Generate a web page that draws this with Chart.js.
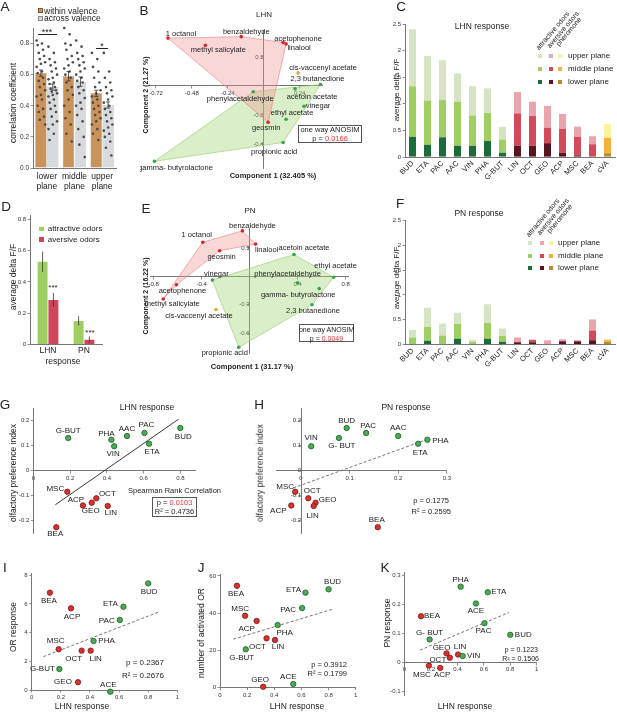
<!DOCTYPE html>
<html>
<head>
<meta charset="utf-8">
<title>LHN and PN odor responses</title>
<script src="https://cdn.jsdelivr.net/npm/chart.js@4.4.1/dist/chart.umd.min.js"></script>
<style>
  html, body { margin: 0; padding: 0; background: #fff; }
  #page { position: relative; width: 617px; height: 712px; overflow: hidden;
          font-family: "Liberation Sans", Arial, sans-serif; color: #222; }
  #page canvas { position: absolute; }
  .tx { position: absolute; white-space: nowrap; line-height: 1; z-index: 2; }
  .sq { position: absolute; z-index: 2; box-sizing: border-box; }
  .box { position: absolute; border: 1px solid #555; z-index: 2; box-sizing: border-box; }
  .hl { position: absolute; border-top: 1px solid #222; z-index: 2; }
  .red { color: #e8383d; }
</style>
</head>
<body>
<div id="page"></div>
<script>
// --- A: correlation coefficient per imaging plane ---
const planeLabels = [['lower', 'plane'], ['middle', 'plane'], ['upper', 'plane']];
const withinMean = [0.61, 0.59, 0.48];
const acrossMean = [0.52, 0.555, 0.405];
const withinSem = [0.02, 0.03, 0.02];
const acrossSem = [0.02, 0.03, 0.02];
const withinLower = [0.82, 0.80, 0.79, 0.76, 0.74, 0.72, 0.70, 0.68, 0.67, 0.65, 0.62, 0.61, 0.58, 0.56, 0.54, 0.52, 0.50, 0.47, 0.46, 0.44, 0.40, 0.38, 0.36, 0.33, 0.31, 0.28];
const acrossLower = [0.78, 0.74, 0.70, 0.68, 0.66, 0.64, 0.62, 0.60, 0.58, 0.57, 0.55, 0.54, 0.52, 0.51, 0.50, 0.49, 0.48, 0.47, 0.46, 0.44, 0.42, 0.40, 0.38, 0.36, 0.33, 0.30, 0.28, 0.25, 0.22, 0.18];
const withinMiddle = [0.90, 0.86, 0.80, 0.79, 0.76, 0.72, 0.70, 0.68, 0.66, 0.64, 0.62, 0.60, 0.58, 0.55, 0.52, 0.50, 0.47, 0.44, 0.40, 0.36, 0.32, 0.28, 0.22, 0.17];
const acrossMiddle = [0.82, 0.78, 0.74, 0.72, 0.70, 0.68, 0.66, 0.64, 0.62, 0.60, 0.58, 0.56, 0.55, 0.52, 0.50, 0.48, 0.45, 0.42, 0.40, 0.38, 0.34, 0.30, 0.25, 0.20, 0.15, 0.07];
const withinUpper = [0.74, 0.70, 0.65, 0.62, 0.58, 0.55, 0.52, 0.50, 0.48, 0.46, 0.44, 0.42, 0.40, 0.38, 0.36, 0.34, 0.32, 0.30, 0.28, 0.25, 0.22, 0.18];
const acrossUpper = [0.74, 0.62, 0.58, 0.55, 0.52, 0.50, 0.48, 0.46, 0.44, 0.42, 0.40, 0.38, 0.36, 0.34, 0.32, 0.30, 0.28, 0.26, 0.24, 0.22, 0.20, 0.17, 0.13, 0.08];

// --- B / E: PCA scores ---
const pcaOdors = ['1 octanol', 'benzaldehyde', 'methyl salicylate', 'acetophenone', 'linalool', 'geosmin',
  'cis-vaccenyl acetate', '2,3 butanedione', 'acetoin acetate', 'phenylacetaldehyde', 'vinegar',
  'ethyl acetate', 'propionic acid', 'gamma- butyrolactone'];
const pcaGroup = ['av', 'av', 'av', 'av', 'av', 'av', 'ph', 'at', 'at', 'at', 'at', 'at', 'at', 'at'];
const lhnPc1 = [-0.64, -0.15, -0.39, 0.13, 0.15, 0.03, 0.23, 0.38, 0.21, -0.07, 0.27, 0.15, 0.13, -0.73];
const lhnPc2 = [0.33, 0.34, 0.28, 0.30, 0.29, -0.25, 0.09, 0.01, -0.02, -0.04, -0.14, -0.23, -0.39, -0.52];
const lhnHullAv = [0, 1, 3, 4, 5];
const lhnHullAt = [13, 9, 7, 12];
const pnPc1 = [-0.39, -0.06, -0.72, -0.61, 0.05, -0.25, -0.28, 0.52, 0.37, 0.40, -0.31, 0.70, -0.09, 0.58];
const pnPc2 = [0.36, 0.48, -0.24, -0.09, 0.34, 0.27, -0.35, -0.30, 0.23, -0.07, -0.04, -0.01, -0.75, -0.13];
const pnHullAv = [2, 0, 1, 4, 5, 3];
const pnHullAt = [10, 8, 11, 7, 12];

// --- C / F: average delta F/F per plane ---
const barOdors = ['BUD', 'ETA', 'PAC', 'AAC', 'VIN', 'PHA', 'G-BUT', 'LIN', 'OCT', 'GEO', 'ACP', 'MSC', 'BEA', 'cVA'];
const barGroup = ['at', 'at', 'at', 'at', 'at', 'at', 'at', 'av', 'av', 'av', 'av', 'av', 'av', 'ph'];
const lhnLower = [0.38, 0.23, 0.37, 0.21, 0.21, 0.30, 0.08, 0.21, 0.21, 0.26, 0.08, 0.03, 0, 0.07];
const lhnMiddle = [0.95, 0.83, 0.70, 0.83, 0.57, 0.53, 0.25, 0.61, 0.56, 0.29, 0.45, 0.35, 0.24, 0.29];
const lhnUpper = [1.07, 0.84, 0.75, 0.53, 0.55, 0.46, 0.24, 0.40, 0.27, 0.41, 0.28, 0.19, 0.15, 0.26];
const pnLower = [0, 0.07, 0, 0.11, 0, 0.11, 0.05, 0.04, 0.04, 0, 0.06, 0.06, 0.08, 0.05];
const pnMiddle = [0.14, 0.28, 0.18, 0.30, 0.05, 0.32, 0.12, 0, 0.05, 0.01, 0, 0, 0.20, 0.04];
const pnUpper = [0.15, 0.39, 0.24, 0.23, 0.04, 0.38, 0.15, 0.10, 0, 0.07, 0.04, 0.02, 0.22, 0];

// --- D: mean response by valence ---
const dCats = ['LHN', 'PN'];
const attrMean = [0.53, 0.15];
const aversMean = [0.285, 0.03];
const attrErr = [0.065, 0.03];
const aversErr = [0.045, 0.02];

// --- G-K: per-odor values ---
const odorCodes = ['BUD', 'ETA', 'PAC', 'AAC', 'VIN', 'PHA', 'G-BUT', 'ACE', 'MSC', 'ACP', 'GEO', 'OCT', 'LIN', 'BEA'];
const odorValence = ['at', 'at', 'at', 'at', 'at', 'at', 'at', 'at', 'av', 'av', 'av', 'av', 'av', 'av'];
const lhnResponse = [0.80, 0.63, 0.605, 0.51, 0.44, 0.425, 0.19, 0.54, 0.185, 0.27, 0.318, 0.343, 0.405, 0.125];
const prefIndex = [0.17, 0.107, 0.15, 0.138, 0.097, 0.123, 0.13, null, -0.085, -0.14, -0.129, -0.111, -0.142, -0.227];
const pnResponse = [0.094, 0.241, 0.134, 0.20, 0.021, 0.26, 0.078, 0.202, -0.012, -0.02, 0.03, 0.015, 0.026, 0.158];
const orResponse = [7.43, 5.80, 4.88, null, null, 3.41, 1.46, -0.12, 2.84, 5.69, 0.54, 2.74, 2.74, 6.78];
const activatedOr = [52.8, 51, 42.7, null, null, 33.6, 20.6, 2.0, 38.6, 35.8, 0.5, 26.5, 25.6, 54.7];
const gOdors = ['BUD', 'ETA', 'PAC', 'AAC', 'VIN', 'PHA', 'G-BUT', 'MSC', 'ACP', 'GEO', 'OCT', 'LIN', 'BEA'];
const iOdors = ['BUD', 'ETA', 'PAC', 'PHA', 'G-BUT', 'ACE', 'MSC', 'ACP', 'GEO', 'OCT', 'LIN', 'BEA'];
const kOdors = ['BUD', 'ETA', 'PAC', 'VIN', 'PHA', 'G-BUT', 'ACE', 'MSC', 'ACP', 'GEO', 'OCT', 'LIN', 'BEA'];
// fitted lines
const gFit = [[0.12, -0.137], [0.79, 0.205]];
const hFit = [[-0.016, -0.07], [0.259, 0.124]];
const iFit = [[0.08, 2.32], [0.88, 5.46]];
const jFit = [[0.098, 26], [0.833, 42.2]];
const kFit = [[0.117, 0.041], [0.79, 0.171]];

// --- label placement (pixels from the point) ---
const bLabelPos = [[13, -4], [5, -5], [13, 5], [15, -4], [13, 4], [-2, 6], [25, -5], [-3, -6], [17, 8], [-13, 7], [14, 0], [6, -6], [-9, 9], [21, 7]];
const eLabelPos = [[-6, -7], [10, -5], [9, 5], [6, 6], [11, 6], [2, 6], [-17, 6], [1, 6], [10, -7], [-10, -9], [4, -6], [2, -11], [-14, 6], [-21, 6]];
const gLabelPos = {BUD: [3, 9], ETA: [3, 8], PAC: [2, -8], AAC: [0, -7], VIN: [-1, 8], PHA: [-5, -6], 'G-BUT': [0, -7], MSC: [-12, -3], ACP: [-7, -6], GEO: [-1, 8], OCT: [11, -4], LIN: [3, 7], BEA: [-1, 7]};
const hLabelPos = {VIN: [0, -8], 'G-BUT': [3, 8], BUD: [0, -7], PAC: [2, -7], AAC: [0, -8], ETA: [2, 9], PHA: [13, 1], OCT: [4, -7], GEO: [12, -3], LIN: [-1, 10], BEA: [-1, -7], MSC: [-10, -5], ACP: [-13, 5]};
const iLabelPos = {BUD: [1, 8], BEA: [-1, 8], ETA: [-13, -3], ACP: [1, 8], PAC: [-13, 1], PHA: [13, 0], MSC: [-3, -8], OCT: [-8, 8], LIN: [5, 8], 'G-BUT': [-17, 0], GEO: [-15, 0], ACE: [-2, -7]};
const jLabelPos = {BEA: [-1, 8], BUD: [4, -7], ETA: [-12, -3], PAC: [-14, 2], MSC: [-5, -7], ACP: [-10, 8], PHA: [7, 8], OCT: [-9, 8], LIN: [3, 7], 'G-BUT': [-4, 8], ACE: [-5, -7], GEO: [-3, -7]};
const kLabelPos = {PHA: [0, -7], ETA: [11, 0], ACE: [0, 7], BEA: [11, 0], PAC: [-1, 8], BUD: [13, 0], 'G-BUT': [0, -7], GEO: [-5, -6], LIN: [2, -8], OCT: [-12, 2], VIN: [11, 0], MSC: [-7, 9], ACP: [2, 7]};

const FONT = '"Liberation Sans", Arial, sans-serif';
const planeColors = {
    at: ['#1e6b3a', '#9fcf63', '#d5e4c3'],
    av: ['#5a1420', '#d34b5b', '#eaa4ad'],
    ph: ['#b98a2d', '#f5b03e', '#fbf39c']
};

Chart.defaults.font.family = FONT;
Chart.defaults.color = '#333';
Chart.defaults.animation = false;
Chart.defaults.responsive = false;
Chart.defaults.events = [];
Chart.defaults.plugins.legend.display = false;
Chart.defaults.plugins.tooltip.enabled = false;

// --- Plugins ---
const pointLabels = {
    id: 'pointLabels',
    afterDatasetsDraw(chart) {
        const ctx = chart.ctx;
        chart.data.datasets.forEach((ds, i) => {
            if (!ds.names) return;
            const meta = chart.getDatasetMeta(i);
            ctx.save();
            ctx.font = (ds.labelSize || 8) + 'px ' + FONT;
            ctx.fillStyle = '#222';
            ctx.textAlign = 'center';
            ctx.textBaseline = 'middle';
            meta.data.forEach((pt, j) => {
                const off = (ds.offsets && ds.offsets[j]) || [0, -7];
                ctx.fillText(ds.names[j], pt.x + off[0], pt.y + off[1]);
            });
            ctx.restore();
        });
    }
};

const barExtras = {
    id: 'barExtras',
    afterDatasetsDraw(chart) {
        const ctx = chart.ctx;
        const y = chart.scales.y;
        chart.data.datasets.forEach((ds, i) => {
            if (!ds.dots && !ds.errors) return;
            const meta = chart.getDatasetMeta(i);
            ctx.save();
            meta.data.forEach((bar, j) => {
                if (ds.dots) {
                    ctx.fillStyle = '#4a4a4a';
                    ds.dots[j].forEach((v, k) => {
                        const dx = (((k * 5) % 9) - 4) / 4 * bar.width * 0.38;
                        ctx.beginPath();
                        ctx.arc(bar.x + dx, y.getPixelForValue(v), 1.3, 0, Math.PI * 2);
                        ctx.fill();
                    });
                }
                if (ds.errors) {
                    const v = ds.data[j], e = ds.errors[j], cap = ds.cap || 0;
                    const t = y.getPixelForValue(v + e), b = y.getPixelForValue(v - e);
                    ctx.strokeStyle = '#333';
                    ctx.lineWidth = 0.8;
                    ctx.beginPath();
                    ctx.moveTo(bar.x, t); ctx.lineTo(bar.x, b);
                    if (cap) {
                        ctx.moveTo(bar.x - cap, t); ctx.lineTo(bar.x + cap, t);
                        ctx.moveTo(bar.x - cap, b); ctx.lineTo(bar.x + cap, b);
                    }
                    ctx.stroke();
                }
            });
            ctx.restore();
        });
    }
};
Chart.register(pointLabels, barExtras);

// --- Helpers ---
const page = document.getElementById('page');

function makeChart(box, area, cfg, leftW, bottomH) {
    leftW = leftW || 0;
    bottomH = bottomH || 0;
    const c = document.createElement('canvas');
    c.width = box[2];
    c.height = box[3];
    Object.assign(c.style, {left: box[0] + 'px', top: box[1] + 'px', width: box[2] + 'px', height: box[3] + 'px'});
    page.appendChild(c);
    cfg.options.layout = {padding: {
        left: area[0] - box[0] - leftW,
        top: area[1] - box[1],
        right: box[0] + box[2] - area[2],
        bottom: box[1] + box[3] - area[3] - bottomH
    }};
    return new Chart(c, cfg);
}

function valueAxis(min, max, ticks, opts) {
    opts = opts || {};
    const ax = {
        type: 'linear', min: min, max: max,
        position: opts.position || 'left',
        afterBuildTicks: s => { s.ticks = ticks.map(v => ({value: v})); },
        ticks: {autoSkip: false, font: {size: opts.tickSize || 6}, color: '#333', padding: 1.5,
                callback: opts.fmt || (v => String(v))},
        grid: {drawOnChartArea: false, drawTicks: true, tickLength: 2.5, color: '#777', lineWidth: 0.8},
        border: {color: '#777', width: 1}
    };
    if (opts.fit !== undefined) {
        ax.afterFit = s => { if (s.isHorizontal()) s.height = opts.fit; else s.width = opts.fit; };
    }
    return ax;
}

function categoryAxis(size, rotation, pad, fit, stacked) {
    return {
        stacked: !!stacked,
        grid: {display: false, drawTicks: false, tickLength: 0},
        border: {color: '#777'},
        ticks: {autoSkip: false, minRotation: rotation, maxRotation: rotation,
                font: {size: size, lineHeight: 1.25}, color: '#222', padding: pad},
        afterFit: s => { s.height = fit; }
    };
}

function addText(html, x, y, o) {
    o = o || {};
    const d = document.createElement('div');
    d.className = 'tx';
    d.innerHTML = html;
    d.style.left = x + 'px';
    d.style.top = y + 'px';
    d.style.fontSize = (o.size || 8) + 'px';
    if (o.bold) d.style.fontWeight = 'bold';
    if (o.origin === 'left') {
        d.style.transformOrigin = '0 50%';
        d.style.transform = 'translate(0,-50%) rotate(' + o.rot + 'deg)';
    } else {
        const ax = o.align === 'left' ? '0' : o.align === 'right' ? '-100%' : '-50%';
        d.style.transform = 'translate(' + ax + ',-50%)' + (o.rot ? ' rotate(' + o.rot + 'deg)' : '');
    }
    page.appendChild(d);
}

function addSquare(x, y, s, color, border) {
    const d = document.createElement('div');
    d.className = 'sq';
    Object.assign(d.style, {left: x + 'px', top: y + 'px', width: s + 'px', height: s + 'px', background: color});
    if (border) d.style.border = '0.5px solid ' + border;
    page.appendChild(d);
}

function addBox(x, y, w, h) {
    const d = document.createElement('div');
    d.className = 'box';
    Object.assign(d.style, {left: x + 'px', top: y + 'px', width: w + 'px', height: h + 'px'});
    page.appendChild(d);
}

function addLine(x1, x2, y) {
    const d = document.createElement('div');
    d.className = 'hl';
    Object.assign(d.style, {left: x1 + 'px', top: y + 'px', width: (x2 - x1) + 'px'});
    page.appendChild(d);
}

// --- A ---
makeChart([0, 0, 150, 204], [33, 28, 116, 168], {
    type: 'bar',
    data: {
        labels: planeLabels,
        datasets: [
            {data: withinMean, errors: withinSem, cap: 2, dots: [withinLower, withinMiddle, withinUpper],
             backgroundColor: '#c9935b', borderColor: '#9a7040', borderWidth: 0.5,
             categoryPercentage: 0.86, barPercentage: 0.95},
            {data: acrossMean, errors: acrossSem, cap: 2, dots: [acrossLower, acrossMiddle, acrossUpper],
             backgroundColor: '#d8dbde', borderColor: '#a0a4a8', borderWidth: 0.5,
             categoryPercentage: 0.86, barPercentage: 0.95}
        ]
    },
    options: {
        scales: {
            x: categoryAxis(8.5, 0, 3, 26),
            y: valueAxis(0, 0.9, [0, 0.2, 0.4, 0.6, 0.8], {fmt: v => v.toFixed(1), fit: 33, tickSize: 6.5})
        }
    }
}, 33, 26);

// --- B, E ---
function pcaChart(box, area, pc1, pc2, hullAv, hullAt, labelPos, xr, yr) {
    const pointSet = (group, color) => {
        const idx = pcaOdors.map((n, i) => i).filter(i => pcaGroup[i] === group);
        return {
            data: idx.map(i => ({x: pc1[i], y: pc2[i]})),
            names: idx.map(i => pcaOdors[i]),
            offsets: idx.map(i => labelPos[i]),
            labelSize: 7.5,
            backgroundColor: color, borderWidth: 0, pointRadius: 1.8, clip: false
        };
    };
    const hullSet = (idx, fillColor, lineColor) => ({
        data: idx.concat(idx[0]).map(i => ({x: pc1[i], y: pc2[i]})),
        showLine: true, fill: 'shape', backgroundColor: fillColor, borderColor: lineColor,
        borderWidth: 0.7, pointRadius: 0, order: 5
    });
    return makeChart(box, area, {
        type: 'scatter',
        data: {datasets: [
            pointSet('av', '#d8232a'),
            pointSet('at', '#3aa34a'),
            pointSet('ph', '#f0a22e'),
            hullSet(hullAv, 'rgba(240,140,140,0.35)', 'rgba(232,130,130,0.9)'),
            hullSet(hullAt, 'rgba(160,212,120,0.4)', 'rgba(150,205,110,0.9)')
        ]},
        options: {
            scales: {
                x: valueAxis(xr[0], xr[1], xr[2], {position: {y: 0}}),
                y: valueAxis(yr[0], yr[1], yr[2], {position: {x: 0}})
            }
        }
    });
}

pcaChart([140, 0, 262, 200], [150, 30, 322, 168], lhnPc1, lhnPc2, lhnHullAv, lhnHullAt, bLabelPos,
    [-0.76, 0.39, [-0.72, -0.48, -0.24, 0.24]], [-0.566, 0.386, [-0.4, -0.2, 0.2]]);
pcaChart([140, 205, 262, 170], [150, 228, 348, 353], pnPc1, pnPc2, pnHullAv, pnHullAt, eLabelPos,
    [-0.83, 0.82, [-0.8, -0.4, 0.4, 0.8]], [-0.81, 0.51, [-0.6, -0.3, 0.3]]);

// --- C, F ---
function stackedBars(box, area, lower, middle, upper) {
    const sets = [lower, middle, upper].map((vals, p) => ({
        data: vals,
        backgroundColor: barGroup.map(g => planeColors[g][p]),
        borderWidth: 0, categoryPercentage: 1, barPercentage: 0.47
    }));
    return makeChart(box, area, {
        type: 'bar',
        data: {labels: barOdors, datasets: sets},
        options: {
            scales: {
                x: categoryAxis(7.5, 45, 2, 25, true),
                y: Object.assign(valueAxis(0, 2.5, [0, 0.5, 1, 1.5, 2, 2.5], {fit: 17}), {stacked: true})
            }
        }
    }, 17, 25);
}
stackedBars([388, 0, 229, 200], [405, 24, 615, 157], lhnLower, lhnMiddle, lhnUpper);
stackedBars([388, 205, 229, 170], [405, 220.7, 615, 344.3], pnLower, pnMiddle, pnUpper);

// --- D ---
makeChart([0, 205, 150, 170], [30, 215, 102, 344.3], {
    type: 'bar',
    data: {
        labels: dCats,
        datasets: [
            {data: attrMean, errors: attrErr, backgroundColor: '#9fcf63', borderWidth: 0,
             categoryPercentage: 0.6, barPercentage: 0.92},
            {data: aversMean, errors: aversErr, backgroundColor: '#d0455a', borderWidth: 0,
             categoryPercentage: 0.6, barPercentage: 0.92}
        ]
    },
    options: {
        scales: {
            x: categoryAxis(8.5, 0, 1, 12),
            y: valueAxis(0, 0.83, [0, 0.2, 0.4, 0.6, 0.8], {fit: 30})
        }
    }
}, 30, 12);

// --- G-K ---
function scatterChart(box, area, odors, xs, ys, fit, dashed, labelPos, scales, leftW, bottomH, rename) {
    const sets = ['at', 'av'].map(v => {
        const idx = odors.map(c => odorCodes.indexOf(c)).filter(i => odorValence[i] === v);
        return {
            data: idx.map(i => ({x: xs[i], y: ys[i]})),
            names: idx.map(i => (rename && rename[odorCodes[i]]) || odorCodes[i]),
            offsets: idx.map(i => labelPos[odorCodes[i]]),
            labelSize: 8,
            backgroundColor: v === 'at' ? '#4aab55' : '#d93030',
            borderColor: v === 'at' ? '#1f5d29' : '#7c1515',
            borderWidth: 0.8, pointRadius: 2.7, clip: false
        };
    });
    sets.push({
        data: fit.map(p => ({x: p[0], y: p[1]})), showLine: true,
        borderColor: dashed ? '#666' : '#222', borderWidth: 0.9, borderDash: dashed ? [3, 2] : [],
        pointRadius: 0, order: 5
    });
    return makeChart(box, area, {type: 'scatter', data: {datasets: sets}, options: {scales: scales}}, leftW, bottomH);
}

const spaced = {'G-BUT': 'G- BUT'};
const prefTicks = [-0.2, -0.1, 0, 0.1, 0.2];

scatterChart([0, 395, 255, 150], [33.3, 408, 195, 533], gOdors, lhnResponse, prefIndex, gFit, false, gLabelPos, {
    x: valueAxis(0, 0.88, [0, 0.2, 0.4, 0.6, 0.8], {position: {y: 0}}),
    y: valueAxis(-0.25, 0.25, prefTicks, {fit: 33.3})
}, 33.3, 0);

scatterChart([255, 395, 200, 150], [276.7, 408, 446.8, 533], gOdors, pnResponse, prefIndex, hFit, true, hLabelPos, {
    x: valueAxis(-0.05, 0.3, [0, 0.1, 0.2, 0.3], {position: {y: 0}}),
    y: valueAxis(-0.25, 0.25, prefTicks, {position: {x: 0}})
}, 0, 0, spaced);

const lhnTicks = [0, 0.2, 0.4, 0.6, 0.8, 1];
scatterChart([0, 555, 205, 157], [31.7, 573, 177.3, 690], iOdors, lhnResponse, orResponse, iFit, true, iLabelPos, {
    x: valueAxis(0, 1, lhnTicks, {position: 'bottom', fit: 10}),
    y: valueAxis(0, 8.15, [0, 2, 4, 6, 8], {fit: 31.7})
}, 31.7, 10);

scatterChart([200, 555, 190, 157], [220, 574, 355.7, 687.7], iOdors, lhnResponse, activatedOr, jFit, true, jLabelPos, {
    x: valueAxis(0, 1, lhnTicks, {position: 'bottom', fit: 10}),
    y: valueAxis(0, 61, [0, 20, 40, 60], {fit: 20})
}, 20, 10);

scatterChart([380, 555, 237, 157], [404.5, 572.2, 536.7, 695.4], kOdors, lhnResponse, pnResponse, kFit, true, kLabelPos, {
    x: valueAxis(0, 1, lhnTicks, {position: {y: 0}}),
    y: valueAxis(-0.115, 0.31, [-0.1, 0, 0.1, 0.2, 0.3], {fit: 24.5})
}, 24.5, 0, spaced);

// --- Text, legends, annotations ---
[['A', 5, 7], ['B', 144, 11], ['C', 401, 7], ['D', 6, 207], ['E', 146, 209], ['F', 400, 204],
 ['G', 5, 405], ['H', 259, 405], ['I', 5, 568], ['J', 201, 568], ['K', 385, 568]]
    .forEach(([t, x, y]) => addText(t, x, y, {size: 13.5}));

addText('LHN', 264, 15, {size: 8});
addText('LHN response', 482, 26, {size: 8.5});
addText('PN', 250, 211, {size: 8});
addText('PN response', 479, 213, {size: 8.5});
addText('LHN response', 147, 407, {size: 8.5});
addText('PN response', 406, 407, {size: 8.5});

addText('correlation coefficient', 13, 103, {size: 8.5, rot: -90});
addText('Component 2 (21.27 %)', 145, 95, {size: 7, bold: true, rot: -90});
addText('Component 1 (32.405 %)', 273, 176, {size: 7.5, bold: true});
addText('average delta F/F', 397, 90, {size: 8, rot: -90});
addText('average delta F/F', 13, 277, {size: 8.5, rot: -90});
addText('response', 63, 361, {size: 8.5});
addText('Component 2 (16.22 %)', 145, 296, {size: 7, bold: true, rot: -90});
addText('Component 1 (31.17 %)', 252, 367, {size: 7.5, bold: true});
addText('average delta F/F', 397, 278, {size: 8, rot: -90});
addText('olfactory preference index', 13, 473, {size: 8.5, rot: -90});
addText('olfactory preference index', 260, 473, {size: 8.5, rot: -90});
addText('OR response', 13, 627, {size: 8.5, rot: -90});
addText('LHN response', 82, 706, {size: 8.5});
addText('number of activated OR', 201, 633, {size: 8.5, rot: -90});
addText('LHN response', 297, 706, {size: 8.5});
addText('PN response', 387, 623, {size: 8.5, rot: -90});
addText('LHN response', 465, 706, {size: 8.5});

// A legend and significance
addSquare(38, 8, 5, '#c9935b', '#7a5a35');
addText('within valence', 44, 10.5, {size: 8.5, align: 'left'});
addSquare(38, 15.5, 5, '#d8dbde', '#888');
addText('across valence', 44, 18, {size: 8.5, align: 'left'});
addText('***', 47, 32, {size: 9});
addLine(38, 57, 33.5);
addText('*', 102, 45.5, {size: 9});
addLine(96, 108, 47.5);

// B / E stats
addBox(298, 125, 64, 18);
addText('one way ANOSIM', 330, 130, {size: 7.5});
addText('p = <span class="red">0.0166</span>', 330, 138.5, {size: 7.5});
addBox(299, 324, 55, 18);
addText('one way ANOSIM', 326.5, 329, {size: 7});
addText('p = <span class="red">0.0049</span>', 326.5, 337.5, {size: 7});

// C / F legends
function planeLegend(cols, rows, textX, heads) {
    const planes = ['upper plane', 'middle plane', 'lower plane'];
    const groups = ['at', 'av', 'ph'];
    planes.forEach((p, r) => {
        groups.forEach((g, c) => addSquare(cols[c] - 2, rows[r] - 2, 4, planeColors[g][2 - r]));
        addText(p, textX, rows[r], {size: 8, align: 'left'});
    });
    ['attractive odors', 'aversive odors', 'pheromone'].forEach((t, c) =>
        addText(t, heads[c][0], heads[c][1], {size: 7, rot: -50, origin: 'left'}));
}
planeLegend([540.3, 551, 560.3], [56, 69, 82], 568, [[537, 49], [547.5, 47], [557, 45]]);
planeLegend([530, 541.7, 550.7], [242.7, 256, 268.3], 558, [[527, 236], [538, 234], [547.5, 232]]);

// D legend and significance
addSquare(39.3, 226.7, 4.7, '#9fcf63');
addText('attractive odors', 47.7, 229.3, {size: 8, align: 'left'});
addSquare(39.3, 237.3, 4.7, '#d0455a');
addText('aversive odors', 47.7, 239.8, {size: 8, align: 'left'});
addText('***', 53, 288, {size: 8});
addText('***', 90, 333, {size: 8});

// G-K stats
addText('Spearman Rank Correlation', 174.5, 491, {size: 7.5});
addBox(152, 497, 45, 20);
addText('p = <span class="red">0.0103</span>', 174.5, 503, {size: 7.5});
addText('R² = 0.4736', 174.5, 511.5, {size: 7.5});
addText('p = 0.1275', 449, 501, {size: 7.5, align: 'right'});
addText('R² = 0.2595', 451, 512, {size: 7.5, align: 'right'});
addText('p = 0.2367', 164, 663, {size: 8, align: 'right'});
addText('R² = 0.2676', 164, 676, {size: 8, align: 'right'});
addText('p = 0.3912', 347, 665, {size: 7.5, align: 'right'});
addText('R² = 0.1799', 347, 674, {size: 7.5, align: 'right'});
addText('p = 0.1223', 538, 649, {size: 7, align: 'right'});
addText('R² = 0.1506', 539, 658, {size: 7, align: 'right'});
</script>
</body>
</html>
